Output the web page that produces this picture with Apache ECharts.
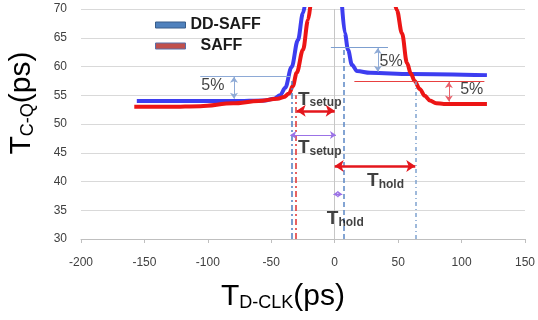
<!DOCTYPE html>
<html>
<head>
<meta charset="utf-8">
<script src="https://cdn.jsdelivr.net/npm/echarts@6/dist/echarts.min.js"></script>
<style>
  html, body { margin: 0; padding: 0; background: #fff; }
  #chart { width: 538px; height: 320px; }
</style>
</head>
<body>
<div id="chart"></div>
<script>
// curve points, [T_D-CLK, T_C-Q] in ps
var ddSaffSetup = [[-156, 54.0], [-120, 54.0], [-80, 54.0], [-55, 54.1], [-48, 54.4], [-43, 55.0], [-39, 56.3], [-34, 59.9], [-29, 64.6], [-25, 69.3], [-23, 71.5]];
var ddSaffHold = [[5.5, 71.5], [8, 65.8], [10.5, 62.9], [13.6, 60.3], [17.6, 59.2], [28, 58.9], [60, 58.7], [120, 58.5]];
var saffSetup = [[-158, 53.0], [-130, 53.0], [-106, 53.1], [-80, 53.6], [-60, 54.0], [-45, 54.4], [-40, 54.7], [-36, 55.3], [-33, 56.6], [-30, 58.9], [-25, 62.9], [-21, 68.1], [-19, 71]];
var saffHold = [[47, 71.5], [49, 69.8], [53, 65.8], [57, 60.6], [60, 58.8], [63, 57.5], [67, 56.1], [71, 54.9], [75, 54.1], [80, 53.6], [86, 53.5], [120, 53.5]];

var xTicks = [-200, -150, -100, -50, 0, 50, 100, 150];
var yTicks = [30, 35, 40, 45, 50, 55, 60, 65, 70];

// guide lines (data coords)
var ddSetupMark = [[-34, 30], [-34, 57.5]];
var saffSetupMark = [[-30.5, 30], [-30.5, 55]];
var ddHoldMark = [[7.3, 30], [7.3, 63.4]];
var saffHoldMark = [[64, 30], [64, 57.5]];
var ddSetup5 = [[-106, 58.35], [-35, 58.35]];
var ddHold5 = [[-3, 63.4], [42, 63.4]];
var saffHold5 = [[15.5, 57.5], [118, 57.5]];

// double arrows
var ddSetup5Arrow = [[-79.4, 54.4], [-79.4, 58.2]];
var ddHold5Arrow = [[34, 59.1], [34, 63.2]];
var saffHold5Arrow = [[90, 53.9], [90, 57.3]];
var saffSetupArrow = [[-30, 52.3], [0, 52.3]];
var ddSetupArrow = [[-35, 48.1], [1, 48.1]];
var saffHoldArrow = [[0, 42.7], [63.5, 42.7]];
var ddHoldArrow = [[-1, 37.8], [6, 37.8]];

// text labels
var pctLabels = [[-96, 56.6], [44.5, 60.8], [108, 55.9]];
var setupLabels = [[-29, 54.3], [-29, 45.8]];
var holdLabels = [[25.5, 40.1], [-6.2, 33.5]];

var chart = echarts.init(document.getElementById('chart'));

function seg(p, style, arrow, size) {
    var sym = arrow ? 'arrow' : 'none';
    return [
        { coord: p[0], lineStyle: style, symbol: sym, symbolSize: size || 7 },
        { coord: p[1], symbol: sym, symbolSize: size || 7 }
    ];
}

var thinBlue = { color: '#8eaad6', width: 1, type: 'solid' };
var thinPink = { color: '#e8606a', width: 1, type: 'solid' };
var purple = { color: '#9b72e6', width: 1, type: 'solid' };
var redArrow = { color: '#e4161c', width: 2.5, type: 'solid' };

var subRich = {
    t: { fontSize: 19, fontWeight: 'bold', color: '#111', fontFamily: 'Liberation Sans, Arial' },
    s: { fontSize: 12, fontWeight: 'bold', color: '#111', fontFamily: 'Liberation Sans, Arial', verticalAlign: 'bottom' }
};

function labelSeries(points, sub) {
    return {
        type: 'scatter',
        symbolSize: 0,
        silent: true,
        z: 10,
        data: points.map(function (p) { return { value: p, name: sub }; }),
        label: {
            show: true,
            position: 'right',
            distance: 0,
            formatter: function (p) { return '{t|T}{s|' + p.name + '}'; },
            rich: subRich
        }
    };
}

var titleRich = {
    t: { fontSize: 30, color: '#1a1a1a', fontFamily: 'Liberation Sans, Arial' },
    s: { fontSize: 18, color: '#1a1a1a', fontFamily: 'Liberation Sans, Arial', verticalAlign: 'bottom' }
};

var curveStyle = { showSymbol: false, smooth: 0.35, smoothMonotone: 'x' };
function curve(name, data, color) {
    return Object.assign({
        name: name, type: 'line', data: data,
        lineStyle: { color: color, width: 4 }, itemStyle: { color: color }
    }, curveStyle);
}

var option = {
    animation: false,
    grid: { left: 81, right: 13, top: 9, bottom: 81 },
    legend: {
        orient: 'vertical',
        left: 150,
        top: 11,
        itemWidth: 30,
        itemHeight: 6,
        itemGap: 3,
        icon: 'rect',
        selectedMode: false,
        textStyle: { fontSize: 16, fontWeight: 'bold', color: '#1a1a1a', lineHeight: 18, fontFamily: 'Liberation Sans, Arial' },
        data: [
            { name: 'DD-SAFF', itemStyle: { color: '#4f81bd', borderColor: '#385d8a', borderWidth: 1 } },
            { name: 'SAFF', itemStyle: { color: '#c0504d', borderColor: '#5b6ea8', borderWidth: 1 }, textStyle: { padding: [0, 0, 0, 10] } }
        ]
    },
    xAxis: {
        type: 'value',
        min: xTicks[0],
        max: xTicks[xTicks.length - 1],
        interval: 50,
        axisLine: { show: true, onZero: false, lineStyle: { color: '#bfbfbf' } },
        axisTick: { show: true, length: 4, lineStyle: { color: '#bfbfbf' } },
        axisLabel: { margin: 18, fontSize: 12, color: '#404040', fontFamily: 'Liberation Sans, Arial' },
        splitLine: { show: false }
    },
    yAxis: {
        type: 'value',
        min: yTicks[0],
        max: yTicks[yTicks.length - 1],
        interval: 5,
        axisLine: { show: false },
        axisTick: { show: false },
        axisLabel: { margin: 14, fontSize: 12, color: '#404040', fontFamily: 'Liberation Sans, Arial' },
        splitLine: { lineStyle: { color: '#d9d9d9', width: 1 } }
    },
    graphic: [
        {
            type: 'text',
            left: 221,
            top: 282,
            style: { text: '{t|T}{s|D-CLK}{t|(ps)}', rich: titleRich }
        },
        {
            type: 'text',
            x: 22,
            y: 103,
            rotation: Math.PI / 2,
            style: { text: '{t|T}{s|C-Q}{t|(ps)}', align: 'center', verticalAlign: 'middle', rich: titleRich }
        }
    ],
    series: [
        {
            name: 'guides',
            type: 'line',
            data: [],
            silent: true,
            markLine: {
                silent: true,
                label: { show: false },
                emphasis: { disabled: true },
                data: [
                    [{ coord: [0, 30], lineStyle: { color: '#c6c6c6', width: 1, type: 'solid' }, symbol: 'none' }, { coord: [0, 70], symbol: 'none' }],
                    seg(ddSetupMark, { color: '#4f7ec0', width: 1.5, type: [6, 3, 2, 3] }, false),
                    seg(saffSetupMark, { color: '#e03030', width: 1.5, type: [6, 3, 2, 3] }, false),
                    seg(ddHoldMark, { color: '#5b87c5', width: 1.5, type: [5, 3] }, false),
                    seg(saffHoldMark, { color: '#7fa3cf', width: 1.5, type: [4, 3, 1, 3] }, false),
                    seg(ddSetup5, thinBlue, false),
                    seg(ddHold5, { color: '#7d9fd0', width: 1, type: 'solid' }, false),
                    seg(saffHold5, { color: '#e84040', width: 1, type: 'solid' }, false),
                    seg(ddSetup5Arrow, thinBlue, true, 6),
                    seg(ddHold5Arrow, thinBlue, true, 6),
                    seg(saffHold5Arrow, thinPink, true, 6),
                    seg(saffSetupArrow, redArrow, true, 9),
                    seg(ddSetupArrow, purple, true, 6),
                    seg(saffHoldArrow, redArrow, true, 9),
                    seg(ddHoldArrow, purple, true, 5)
                ]
            }
        },
        curve('DD-SAFF', ddSaffSetup, '#3d3df0'),
        curve('DD-SAFF', ddSaffHold, '#3d3df0'),
        curve('SAFF', saffSetup, '#ec1515'),
        curve('SAFF', saffHold, '#ec1515'),
        {
            type: 'scatter',
            symbolSize: 0,
            silent: true,
            z: 10,
            data: pctLabels,
            label: {
                show: true,
                position: 'inside',
                formatter: '5%',
                fontSize: 16,
                color: '#111',
                fontFamily: 'Liberation Sans, Arial'
            }
        },
        labelSeries(setupLabels, 'setup'),
        labelSeries(holdLabels, 'hold')
    ]
};

chart.setOption(option);
window.addEventListener('resize', function () {
    chart.resize();
});
</script>
</body>
</html>
